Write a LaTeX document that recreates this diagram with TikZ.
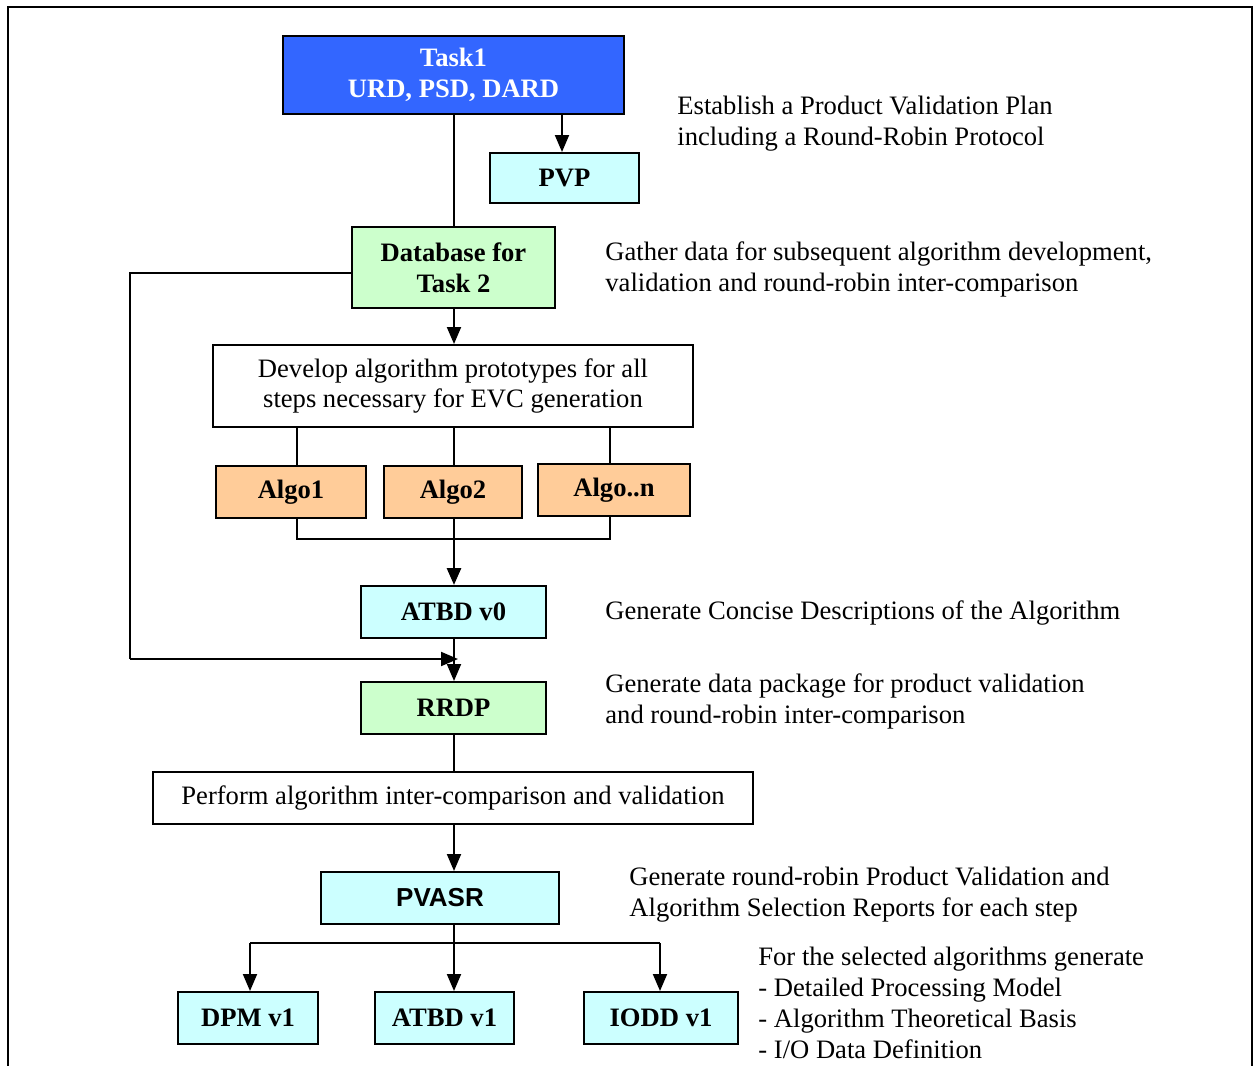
\documentclass[tikz,border=0pt]{standalone}
\usepackage{fontspec}
\setmainfont{Liberation Serif}
\newfontfamily\arialfont{Liberation Sans}
\usetikzlibrary{arrows.meta}
\definecolor{taskblue}{RGB}{51,102,255}
\definecolor{lcyan}{RGB}{204,255,255}
\definecolor{lgreen}{RGB}{204,255,204}
\definecolor{lorange}{RGB}{255,204,153}
\tikzset{
  x=0.5pt, y=-0.5pt,
  box/.style={draw, line width=1pt, inner sep=0pt, align=center,
    font=\fontsize{13.3pt}{15.5pt}\selectfont\bfseries},
  plainbox/.style={draw, line width=1pt, inner sep=0pt, align=center, fill=white,
    font=\fontsize{13.3pt}{15pt}\selectfont},
  note/.style={anchor=west, align=left, inner sep=0pt,
    font=\fontsize{13.3pt}{15.5pt}\selectfont},
  arr/.style={line width=1pt, -{Triangle[length=8.5pt,width=7pt]}},
  conn/.style={line width=0.8pt},
  thickconn/.style={line width=1.4pt},
}
\begin{document}
\begin{tikzpicture}
\useasboundingbox (0,0) rectangle (1260,1066);
% outer frame (open at bottom)
\draw[line width=1pt] (8,1070) -- (8,7) -- (1252,7) -- (1252,1070);

% nodes
\node[box, fill=taskblue, text=white, minimum width=170.5pt, minimum height=39pt] (task1) at (453.5,75) {Task1\\URD, PSD, DARD};
\node[box, fill=lcyan, minimum width=74.5pt, minimum height=25pt] (pvp) at (564.5,178) {PVP};
\node[box, fill=lgreen, minimum width=101.5pt, minimum height=40.5pt] (db) at (453.5,267.5) {Database for\\Task 2};
\node[plainbox, minimum width=240pt, minimum height=41pt] (dev) at (453,386) {Develop algorithm prototypes for all\\steps necessary for EVC generation};
\node[box, fill=lorange, minimum width=75pt, minimum height=26pt] (algo1) at (291,492) {Algo1};
\node[box, fill=lorange, minimum width=69pt, minimum height=26pt] (algo2) at (453,492) {Algo2};
\node[box, fill=lorange, minimum width=76pt, minimum height=26pt] (algon) at (614,490) {Algo..n};
\node[box, fill=lcyan, minimum width=92.5pt, minimum height=26pt] (atbd0) at (453.5,612) {ATBD v0};
\node[box, fill=lgreen, minimum width=92.5pt, minimum height=26pt] (rrdp) at (453.5,708) {RRDP};
\node[plainbox, minimum width=300pt, minimum height=26pt] (perf) at (453,798) {Perform algorithm inter-comparison and validation};
\node[box, fill=lcyan, minimum width=119pt, minimum height=26pt, font=\fontsize{13pt}{15pt}\selectfont\arialfont\bfseries] (pvasr) at (440,898) {PVASR};
\node[box, fill=lcyan, minimum width=70pt, minimum height=26pt] (dpm) at (248,1018) {DPM v1};
\node[box, fill=lcyan, minimum width=69.5pt, minimum height=26pt] (atbd1) at (444.5,1018) {ATBD v1};
\node[box, fill=lcyan, minimum width=77pt, minimum height=26pt] (iodd) at (661,1018) {IODD v1};

% helper coordinates
\coordinate (sp) at (454,0);
\coordinate (a1x) at (297,0);
\coordinate (anx) at (610,0);
\coordinate (pvpx) at (562,0);
\coordinate (fbL) at (130,659);
\coordinate (fbR) at (458,659);
\coordinate (mrg) at (454,539);
\coordinate (brL) at (250,943);
\coordinate (brR) at (660,943);

% connectors
\draw[conn] (task1.south -| sp) -- (db.north -| sp);
\draw[arr] (task1.south -| pvpx) -- (pvp.north -| pvpx);
\draw[arr] (db.south -| sp) -- (dev.north -| sp);
\draw[conn] (db.west |- 0,273) -| (fbL);
\draw[arr] (fbL) -- (fbR);
\draw[conn] (dev.south -| a1x) -- (algo1.north -| a1x);
\draw[conn] (dev.south -| sp) -- (algo2.north -| sp);
\draw[conn] (dev.south -| anx) -- (algon.north -| anx);
\draw[thickconn] (algo1.south -| a1x) |- (mrg);
\draw[thickconn] (algon.south -| anx) |- (mrg);
\draw[arr, line width=1.4pt] (algo2.south -| sp) -- (atbd0.north -| sp);
\draw[arr] (atbd0.south -| sp) -- (rrdp.north -| sp);
\draw[conn, line width=1pt] (rrdp.south -| sp) -- (perf.north -| sp);
\draw[arr] (perf.south -| sp) -- (pvasr.north -| sp);
\draw[arr] (pvasr.south -| sp) -- (atbd1.north -| sp);
\draw[line width=1.4pt] (brL) -- (brR);
\draw[arr] (brL) -- (dpm.north -| brL);
\draw[arr] (brR) -- (iodd.north -| brR);

% notes
\node[note] (n1) at (677,124) {Establish a Product Validation Plan\\including a Round-Robin Protocol};
\node[note] (n2) at (605,269) {Gather data for subsequent algorithm development,\\validation and round-robin inter-comparison};
\node[note] (n3) at (605,613) {Generate Concise Descriptions of the Algorithm};
\node[note] (n4) at (605,701.5) {Generate data package for product validation\\and round-robin inter-comparison};
\node[note] (n5) at (629,894.5) {Generate round-robin Product Validation and\\Algorithm Selection Reports for each step};
\node[note] (n6) at (758,1003) {For the selected algorithms generate\\- Detailed Processing Model\\- Algorithm Theoretical Basis\\- I/O Data Definition};
\end{tikzpicture}
\end{document}
